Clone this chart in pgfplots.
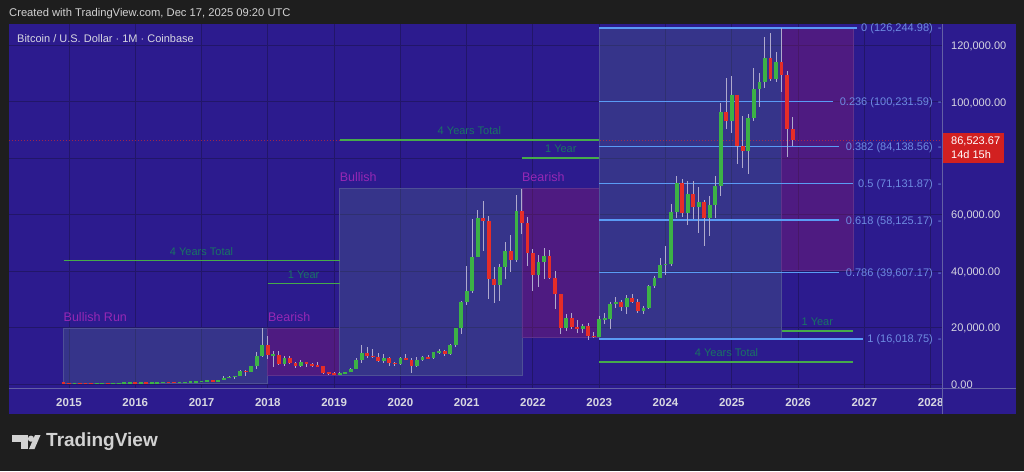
\documentclass[border=0pt]{standalone}
\usepackage{pgfplots}
\pgfplotsset{compat=1.18}
\usepackage{pgfplotstable}
\usepackage{fontspec}
\setmainfont{Liberation Sans}

\definecolor{outer}{RGB}{30,30,30}
\definecolor{panel}{RGB}{44,27,142}
\definecolor{gridc}{RGB}{34,22,105}
\definecolor{sep}{RGB}{100,96,165}
\definecolor{txt}{RGB}{215,215,225}
\definecolor{hdr}{RGB}{210,210,210}
\definecolor{fibl}{RGB}{90,155,245}
\definecolor{fibt}{RGB}{110,140,225}
\definecolor{grl}{RGB}{70,170,75}
\definecolor{grt}{RGB}{25,115,100}
\definecolor{boxt}{RGB}{150,40,180}
\definecolor{bullf}{RGB}{80,110,130}
\definecolor{bearf}{RGB}{157,30,102}
\definecolor{bullb}{RGB}{78,80,150}
\definecolor{bearb}{RGB}{95,50,140}
\definecolor{cg}{RGB}{60,178,70}
\definecolor{cr}{RGB}{230,45,40}
\definecolor{wick}{RGB}{175,170,205}
\definecolor{tag}{RGB}{210,32,32}

\pgfplotstableread{
t o h l c
2015.083 217 265 212 254
2015.417 230 267 220 263
2015.500 263 317 253 284
2015.667 230 243 225 236
2015.750 236 334 236 314
2015.833 314 500 310 378
2015.917 378 465 350 430
2016.083 369 448 367 437
2016.250 416 467 412 448
2016.333 448 548 440 531
2016.417 531 780 530 673
2016.667 575 630 570 609
2016.750 609 720 605 700
2016.833 700 756 687 745
2016.917 745 980 740 964
2017.000 964 1150 750 970
2017.083 970 1200 940 1190
2017.250 1080 1350 1060 1350
2017.333 1350 2790 1330 2300
2017.417 2300 3000 2100 2480
2017.500 2480 2950 1830 2870
2017.583 2870 4800 2680 4740
2017.750 4340 6470 4100 6440
2017.833 6440 11400 5400 9950
2017.917 9950 19890 9400 13880
2018.083 10220 11790 5920 10320
2018.250 6930 9770 6430 9240
2018.500 6390 8500 6070 7730
2019.083 3440 4210 3390 3820
2019.167 3820 4130 3730 4100
2019.250 4100 5640 4080 5320
2019.333 5320 9080 5300 8560
2019.417 8560 13880 7450 10820
2019.750 8300 10540 7300 9150
2020.000 7200 9590 6860 9350
2020.250 6420 9470 6150 8630
2020.333 8630 10080 8100 9450
2020.500 9140 11450 8970 11350
2020.583 11350 12470 10540 11650
2020.750 10780 14100 10420 13800
2020.833 13800 19940 13200 19700
2020.917 19700 29300 17570 28990
2021.000 28990 41990 28130 33110
2021.083 33110 58350 32300 45160
2021.167 45160 61790 45000 58800
2021.500 35040 42600 29280 41460
2021.583 41460 50500 37330 47100
2021.750 43830 67000 43300 61300
2022.083 38480 45820 34300 43190
2022.167 43190 48240 37200 45540
2022.500 19930 24670 18780 23300
2022.750 19430 21100 18200 20490
2023.000 16540 23960 16500 23140
2023.083 23140 25250 21400 23150
2023.167 23150 29200 19570 28470
2023.250 28470 31000 26950 29250
2023.417 27220 31430 24800 30470
2023.667 25930 27490 24900 26970
2023.750 26970 35200 26560 34650
2023.833 34650 38420 34110 37720
2023.917 37720 44730 37600 42270
2024.000 42270 48970 38550 42580
2024.083 42580 64000 41880 61170
2024.167 61170 73830 59000 71320
2024.333 60670 71980 56550 67500
2024.500 62700 70000 53500 64630
2024.667 58980 66500 52550 63330
2024.750 63330 73600 58900 70220
2024.833 70220 99600 66800 96450
2025.000 93430 109350 89160 102400
2025.250 82550 95800 74400 94200
2025.333 94200 112000 93300 104600
2025.417 104600 110400 98200 107170
2025.500 107170 123200 105100 115760
2025.667 108250 117900 107250 114050
}\tabG

\pgfplotstableread{
t o h l c
2014.917 378 378 310 320
2015.000 320 320 170 217
2015.167 254 300 236 244
2015.250 244 261 215 236
2015.333 236 247 226 230
2015.583 284 285 199 230
2016.000 430 460 354 369
2016.167 437 440 410 416
2016.500 673 704 600 624
2016.583 624 630 470 575
2017.167 1190 1300 890 1080
2017.667 4740 5000 2970 4340
2018.000 13880 17170 9000 10220
2018.167 10320 11700 6600 6930
2018.333 9240 9990 7040 7490
2018.417 7490 7760 5780 6390
2018.583 7730 7760 5880 7030
2018.667 7030 7400 6100 6630
2018.750 6630 7680 6200 6370
2018.833 6370 6560 3550 4040
2018.917 4040 4310 3130 3740
2019.000 3740 4100 3360 3440
2019.500 10820 13200 9100 10090
2019.583 10090 12330 9370 9600
2019.667 9600 10950 7710 8300
2019.833 9150 9510 6530 7570
2019.917 7570 7750 6410 7200
2020.083 9350 10500 8460 8540
2020.167 8540 9190 3850 6420
2020.417 9450 10400 8900 9140
2020.667 11650 12080 9880 10780
2021.250 58800 64900 47000 57750
2021.333 57750 59500 30000 37300
2021.417 37300 41330 28800 35040
2021.667 47100 52950 39600 43830
2021.833 61300 69000 53200 57000
2021.917 57000 59100 42000 46300
2022.000 46300 47990 32900 38480
2022.250 45540 47440 37400 37640
2022.333 37640 40000 26700 31800
2022.417 31800 31980 17600 19930
2022.583 23300 25200 19550 20050
2022.667 20050 22800 18125 19430
2022.833 20490 21480 15480 17170
2022.917 17170 18400 16260 16540
2023.333 29250 29830 25810 27220
2023.500 30470 31800 28860 29230
2023.583 29230 30200 25200 25930
2024.250 71320 72780 59200 60670
2024.417 67500 71960 58400 62700
2024.583 64630 65100 49050 58980
2024.917 96450 108350 90500 93430
2025.083 102400 102500 78170 84350
2025.167 84350 95000 76600 82550
2025.583 115760 124480 107300 108250
2025.750 114050 126240 103500 109600
2025.833 109600 111000 80600 90400
2025.917 90400 94600 84400 86520
}\tabR

\begin{document}
\begin{tikzpicture}[x=1pt,y=1pt]
\fill[outer] (0,0) rectangle (1024,471);
\fill[panel] (9,57) rectangle (1016,447);
\begin{axis}[
  at={(9pt,83pt)}, anchor=south west,
  scale only axis, width=933pt, height=364pt,
  xmin=2014.0947, xmax=2028.1713, ymin=-1418, ymax=127660,
  axis line style={draw=none},
  major tick length=0pt,
  scaled y ticks=false, scaled x ticks=false,
  xtick={2015,2016,2017,2018,2019,2020,2021,2022,2023,2024,2025,2026,2027,2028},
  xticklabels={2015,2016,2017,2018,2019,2020,2021,2022,2023,2024,2025,2026,2027,2028},
  ytick={0,20000,40000,60000,80000,100000,120000},
  yticklabels={0.00,{20,000.00},{40,000.00},{60,000.00},{},{100,000.00},{120,000.00}},
  yticklabel pos=right,
  grid=major,
  grid style={gridc, line width=1pt},
  xticklabel style={font=\fontsize{11.5}{12}\selectfont\bfseries, text=txt, anchor=north, inner sep=0pt, yshift=-10pt},
  yticklabel style={font=\fontsize{11}{12}\selectfont, text=txt, anchor=base west, inner sep=0pt, xshift=9pt, yshift=-4pt},
]
% boxes
\addplot[fill=bullf, fill opacity=0.3, draw=bullb, line width=0.7pt] coordinates {(2014.917,170)(2018.0,170)(2018.0,19890)(2014.917,19890)(2014.917,170)};
\addplot[fill=bearf, fill opacity=0.3, draw=bearb, line width=0.7pt] coordinates {(2018.0,3000)(2019.083,3000)(2019.083,19600)(2018.0,19600)(2018.0,3000)};
\addplot[fill=bullf, fill opacity=0.3, draw=bullb, line width=0.7pt] coordinates {(2019.083,2900)(2021.833,2900)(2021.833,69500)(2019.083,69500)(2019.083,2900)};
\addplot[fill=bearf, fill opacity=0.3, draw=bearb, line width=0.7pt] coordinates {(2021.833,16700)(2023.0,16700)(2023.0,69500)(2021.833,69500)(2021.833,16700)};
\addplot[fill=bullf, fill opacity=0.3, draw=bullb, line width=0.7pt] coordinates {(2023.0,16300)(2025.75,16300)(2025.75,126245)(2023.0,126245)(2023.0,16300)};
\addplot[fill=bearf, fill opacity=0.3, draw=bearb, line width=0.7pt] coordinates {(2025.75,40400)(2026.833,40400)(2026.833,126245)(2025.75,126245)(2025.75,40400)};

% price line
\addplot[cr, line width=0.6pt, dash pattern=on 1pt off 2pt, opacity=0.6] coordinates {(2014.0947,86523.67)(2028.1713,86523.67)};

% green span lines
\addplot[grl, line width=1.3pt] coordinates {(2014.917,43720)(2019.083,43720)};
\addplot[grl, line width=1.3pt] coordinates {(2018.0,35570)(2019.083,35570)};
\addplot[grl, line width=1.3pt] coordinates {(2019.083,86520)(2023.0,86520)};
\addplot[grl, line width=1.3pt] coordinates {(2021.833,80140)(2023.0,80140)};
\addplot[grl, line width=1.3pt] coordinates {(2025.75,18790)(2026.833,18790)};
\addplot[grl, line width=1.3pt] coordinates {(2023.0,7800)(2026.833,7800)};

% fib lines
\addplot[fibl, line width=1.4pt] coordinates {(2023,126244.98)(2026.889,126244.98)};
\addplot[fibl, line width=1.4pt] coordinates {(2023,100231.59)(2026.527,100231.59)};
\addplot[fibl, line width=1.4pt] coordinates {(2023,84138.56)(2026.618,84138.56)};
\addplot[fibl, line width=1.4pt] coordinates {(2023,71131.87)(2026.829,71131.87)};
\addplot[fibl, line width=1.4pt] coordinates {(2023,58125.17)(2026.618,58125.17)};
\addplot[fibl, line width=1.4pt] coordinates {(2023,39607.17)(2026.618,39607.17)};
\addplot[fibl, line width=1.4pt] coordinates {(2023,16018.75)(2026.980,16018.75)};

% candles: wicks
\addplot[draw=none, forget plot, error bars/.cd, y dir=both, y explicit, error mark=none,
  error bar style={draw=wick, line width=1pt}]
  table[x=t, y expr={(\thisrow{h}+\thisrow{l})/2}, y error expr={(\thisrow{h}-\thisrow{l})/2}] {\tabG};
\addplot[draw=none, forget plot, error bars/.cd, y dir=both, y explicit, error mark=none,
  error bar style={draw=wick, line width=1pt}]
  table[x=t, y expr={(\thisrow{h}+\thisrow{l})/2}, y error expr={(\thisrow{h}-\thisrow{l})/2}] {\tabR};
% candles: bodies
\addplot[draw=none, forget plot, error bars/.cd, y dir=both, y explicit, error mark=none,
  error bar style={draw=cg, line width=3.8pt}]
  table[x=t, y expr={(\thisrow{o}+\thisrow{c})/2}, y error expr={max(abs(\thisrow{c}-\thisrow{o})/2,200)}] {\tabG};
\addplot[draw=none, forget plot, error bars/.cd, y dir=both, y explicit, error mark=none,
  error bar style={draw=cr, line width=3.8pt}]
  table[x=t, y expr={(\thisrow{o}+\thisrow{c})/2}, y error expr={max(abs(\thisrow{c}-\thisrow{o})/2,200)}] {\tabR};

% labels on boxes
\node[boxt, font=\fontsize{12.5}{13}\selectfont, anchor=base west, inner sep=0pt, yshift=6.5pt] at (axis cs:2014.917,19890) {Bullish Run};
\node[boxt, font=\fontsize{12.5}{13}\selectfont, anchor=base west, inner sep=0pt, yshift=7pt] at (axis cs:2018.0,19600) {Bearish};
\node[boxt, font=\fontsize{12.5}{13}\selectfont, anchor=base west, inner sep=0pt, yshift=6.5pt] at (axis cs:2019.083,69500) {Bullish};
\node[boxt, font=\fontsize{12.5}{13}\selectfont, anchor=base west, inner sep=0pt, yshift=6.5pt] at (axis cs:2021.833,69500) {Bearish};

% labels on spans
\node[grt, font=\fontsize{11}{12}\selectfont, anchor=base, inner sep=0pt, yshift=5.5pt] at (axis cs:2017.0,43720) {4 Years Total};
\node[grt, font=\fontsize{11}{12}\selectfont, anchor=base, inner sep=0pt, yshift=5.5pt] at (axis cs:2018.54,35570) {1 Year};
\node[grt, font=\fontsize{11}{12}\selectfont, anchor=base, inner sep=0pt, yshift=5.5pt] at (axis cs:2021.04,86520) {4 Years Total};
\node[grt, font=\fontsize{11}{12}\selectfont, anchor=base, inner sep=0pt, yshift=5.5pt] at (axis cs:2022.42,80140) {1 Year};
\node[grt, font=\fontsize{11}{12}\selectfont, anchor=base, inner sep=0pt, yshift=5.5pt] at (axis cs:2026.29,18790) {1 Year};
\node[grt, font=\fontsize{11}{12}\selectfont, anchor=base, inner sep=0pt, yshift=5.5pt] at (axis cs:2024.92,7800) {4 Years Total};

% fib labels
\node[fibt, font=\fontsize{11}{12}\selectfont, anchor=base east, inner sep=0pt, yshift=-4pt] at (axis cs:2028.166,126244.98) {0 (126,244.98)\hspace{5pt}-};
\node[fibt, font=\fontsize{11}{12}\selectfont, anchor=base east, inner sep=0pt, yshift=-4pt] at (axis cs:2028.166,100231.59) {0.236 (100,231.59)\hspace{5pt}-};
\node[fibt, font=\fontsize{11}{12}\selectfont, anchor=base east, inner sep=0pt, yshift=-4pt] at (axis cs:2028.166,84138.56) {0.382 (84,138.56)\hspace{5pt}-};
\node[fibt, font=\fontsize{11}{12}\selectfont, anchor=base east, inner sep=0pt, yshift=-4pt] at (axis cs:2028.166,71131.87) {0.5 (71,131.87)\hspace{5pt}-};
\node[fibt, font=\fontsize{11}{12}\selectfont, anchor=base east, inner sep=0pt, yshift=-4pt] at (axis cs:2028.166,58125.17) {0.618 (58,125.17)\hspace{5pt}-};
\node[fibt, font=\fontsize{11}{12}\selectfont, anchor=base east, inner sep=0pt, yshift=-4pt] at (axis cs:2028.166,39607.17) {0.786 (39,607.17)\hspace{5pt}-};
\node[fibt, font=\fontsize{11}{12}\selectfont, anchor=base east, inner sep=0pt, yshift=-4pt] at (axis cs:2028.166,16018.75) {1 (16,018.75)\hspace{5pt}-};
\end{axis}
% mask the overflow of the 2028 label, separators
\fill[panel] (942.5,57) rectangle (1016,80);
\draw[sep, line width=1pt] (9,83) -- (1016,83);
\draw[sep, line width=1pt] (942,57) -- (942,447);
% price tag
\fill[tag] (943,308) rectangle (1004,338);
\node[white, font=\fontsize{11}{12}\selectfont, anchor=base west, inner sep=0pt] at (951,326) {86,523.67};
\node[white, font=\fontsize{11}{12}\selectfont, anchor=base west, inner sep=0pt] at (951,312) {14d 15h};
% header and title
\node[hdr, anchor=west, inner sep=0pt, font=\fontsize{11.2}{12}\selectfont] at (9,457) {Created with TradingView.com, Dec 17, 2025 09:20 UTC};
\node[txt, anchor=west, inner sep=0pt, font=\fontsize{11}{12}\selectfont] at (17,432) {Bitcoin / U.S. Dollar · 1M · Coinbase};
% logo
\fill[hdr] (11.7,29.3) rectangle (27.5,36);
\fill[hdr] (20.5,22) rectangle (27.5,36);
\fill[hdr] (31,32.3) circle (3.1);
\fill[hdr] (35,36) -- (40.5,36) -- (34.5,22) -- (29,22) -- cycle;
\node[hdr, anchor=west, inner sep=0pt, font=\fontsize{19}{20}\selectfont\bfseries] at (46,29) {TradingView};
\end{tikzpicture}
\end{document}
